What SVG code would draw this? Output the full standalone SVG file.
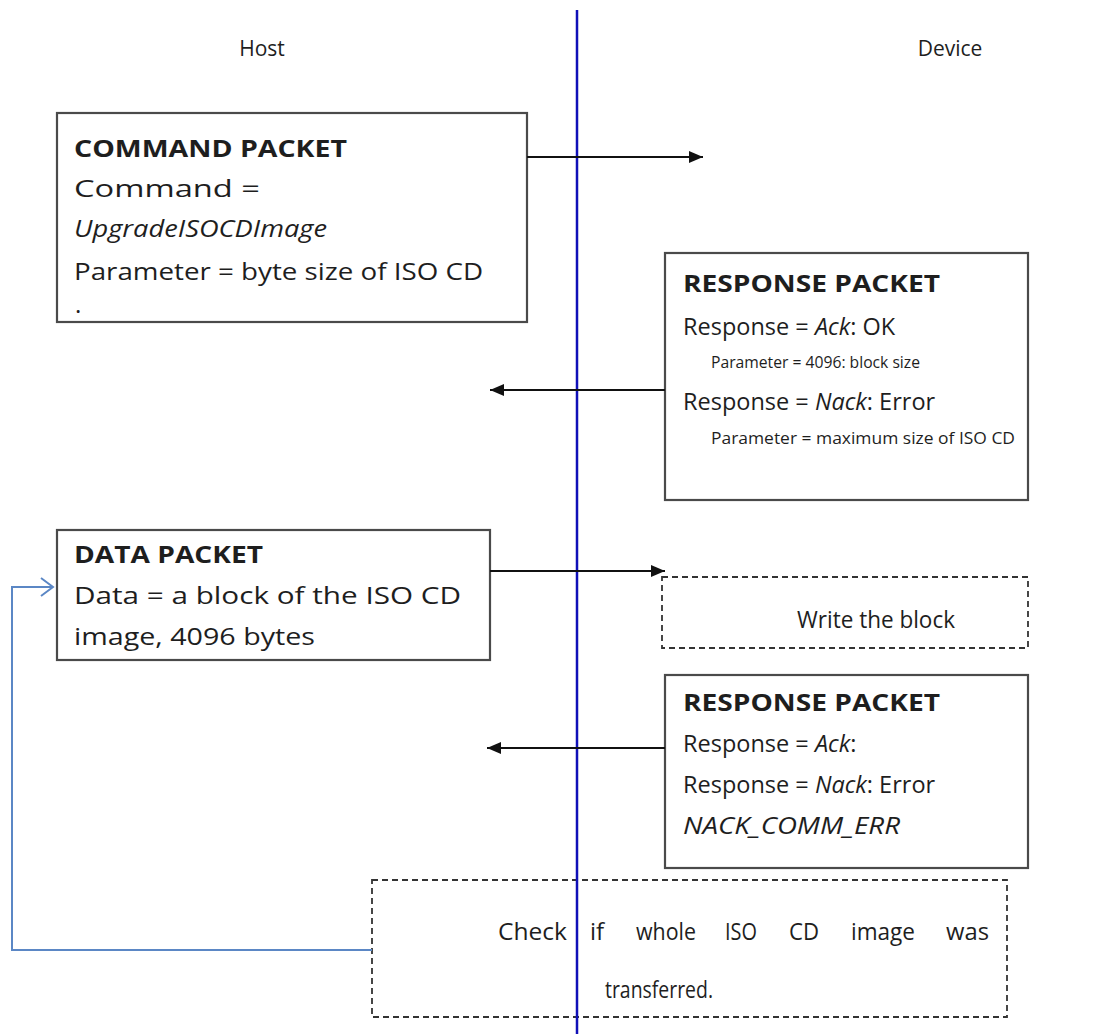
<svg xmlns="http://www.w3.org/2000/svg" width="1098" height="1034" viewBox="0 0 1098 1034">
<style>
text{font-family:"Open Sans","Noto Sans","Liberation Sans",sans-serif;fill:#1e1e1e;font-size:24px}
.h{font-weight:bold}
.i{font-style:italic}
.s{font-size:16px}
.r{font-size:23.5px}
.lane{font-size:21px}
.box{fill:#fff;stroke:#4a4a4a;stroke-width:2.2}
.dash{fill:#fff;stroke:#333;stroke-width:1.8;stroke-dasharray:6,4}
.msg{stroke:#111;stroke-width:2;fill:none}
.loop{stroke:#5b87c5;stroke-width:2;fill:none}
</style>
<defs>
<marker id="ah" markerWidth="14" markerHeight="12" refX="14" refY="6" orient="auto" markerUnits="userSpaceOnUse">
<path d="M0,0 L14,6 L0,12 Z" fill="#111"/>
</marker>
<marker id="oa" markerWidth="16" markerHeight="20" refX="14" refY="10" orient="auto" markerUnits="userSpaceOnUse">
<path d="M2,1 L14,10 L2,19" fill="none" stroke="#5b87c5" stroke-width="2"/>
</marker>
</defs>
<rect width="1098" height="1034" fill="#fff"/>

<g id="lanes">
<text class="lane" x="262" y="56" text-anchor="middle">Host</text>
<text class="lane" x="950" y="56" text-anchor="middle">Device</text>
</g>

<g id="command-packet">
<rect class="box" x="57" y="113" width="470" height="209"/>
<text class="h" x="74" y="157" textLength="273" lengthAdjust="spacingAndGlyphs">COMMAND PACKET</text>
<text x="74" y="197" textLength="186" lengthAdjust="spacingAndGlyphs">Command =</text>
<text class="i" x="74" y="237" textLength="253" lengthAdjust="spacingAndGlyphs">UpgradeISOCDImage</text>
<text x="74" y="280" textLength="409" lengthAdjust="spacingAndGlyphs">Parameter = byte size of ISO CD</text>
<text x="75" y="313">.</text>
</g>

<g id="response-packet-1">
<rect class="box" x="665" y="253" width="363" height="247"/>
<text class="h" x="683" y="292" textLength="257" lengthAdjust="spacingAndGlyphs">RESPONSE PACKET</text>
<text class="r" x="683" y="335">Response = <tspan class="i">Ack</tspan>: OK</text>
<text class="s" x="711" y="368" textLength="209" lengthAdjust="spacingAndGlyphs">Parameter = 4096: block size</text>
<text class="r" x="683" y="410">Response = <tspan class="i">Nack</tspan>: Error</text>
<text class="s" x="711" y="444" textLength="304" lengthAdjust="spacingAndGlyphs">Parameter = maximum size of ISO CD</text>
</g>

<g id="data-packet">
<rect class="box" x="57" y="530" width="433" height="130"/>
<text class="h" x="74" y="563" textLength="189" lengthAdjust="spacingAndGlyphs">DATA PACKET</text>
<text x="74" y="604" textLength="387" lengthAdjust="spacingAndGlyphs">Data = a block of the ISO CD</text>
<text x="74" y="645" textLength="241" lengthAdjust="spacingAndGlyphs">image, 4096 bytes</text>
</g>

<g id="write-block">
<rect class="dash" x="662" y="577" width="366" height="71"/>
<text x="797" y="628" textLength="158" lengthAdjust="spacingAndGlyphs">Write the block</text>
</g>

<g id="response-packet-2">
<rect class="box" x="665" y="675" width="363" height="193"/>
<text class="h" x="683" y="711" textLength="257" lengthAdjust="spacingAndGlyphs">RESPONSE PACKET</text>
<text class="r" x="683" y="752">Response = <tspan class="i">Ack</tspan>:</text>
<text class="r" x="683" y="793">Response = <tspan class="i">Nack</tspan>: Error</text>
<text class="i" x="683" y="834" textLength="217" lengthAdjust="spacingAndGlyphs">NACK_COMM_ERR</text>
</g>

<g id="check-transfer">
<rect class="dash" x="372" y="880" width="635" height="137"/>
<text x="498" y="940" textLength="69" lengthAdjust="spacingAndGlyphs">Check</text>
<text x="590" y="940">if</text>
<text x="636" y="940" textLength="60" lengthAdjust="spacingAndGlyphs">whole</text>
<text x="725" y="940" textLength="32" lengthAdjust="spacingAndGlyphs">ISO</text>
<text x="789" y="940" textLength="30" lengthAdjust="spacingAndGlyphs">CD</text>
<text x="851" y="940" textLength="64" lengthAdjust="spacingAndGlyphs">image</text>
<text x="946" y="940" textLength="43" lengthAdjust="spacingAndGlyphs">was</text>
<text x="605" y="998" textLength="108" lengthAdjust="spacingAndGlyphs">transferred.</text>
</g>

<g id="lifeline">
<line x1="577" y1="10" x2="577" y2="1034" stroke="#1010b8" stroke-width="2.5"/>
</g>

<g id="connectors">
<line class="msg" x1="527" y1="157" x2="703" y2="157" marker-end="url(#ah)"/>
<line class="msg" x1="665" y1="390" x2="490" y2="390" marker-end="url(#ah)"/>
<line class="msg" x1="490" y1="571" x2="665" y2="571" marker-end="url(#ah)"/>
<line class="msg" x1="665" y1="748" x2="487" y2="748" marker-end="url(#ah)"/>
<polyline class="loop" points="372,950 12,950 12,587 53,587" marker-end="url(#oa)"/>
</g>
</svg>
